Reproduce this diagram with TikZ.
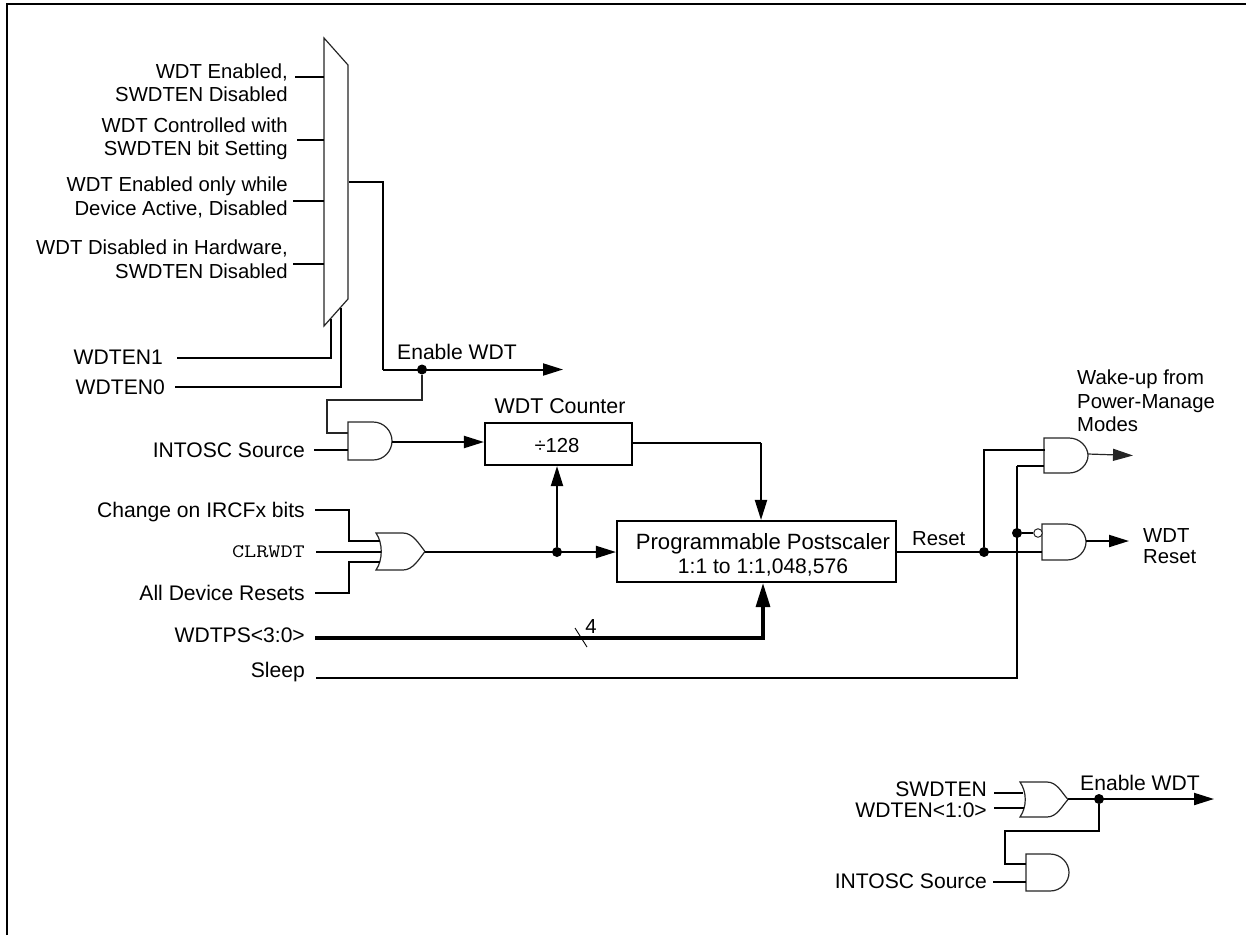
\documentclass[tikz,border=0pt]{standalone}
\usepackage{fontspec}
\usepackage{graphicx}
\setmainfont{Liberation Sans}
\usetikzlibrary{arrows.meta}
\tikzset{
  x=1pt,y=-1pt,
  frameline/.style={line width=2.4pt,black},
  wire/.style={line width=2pt,black,line cap=butt,line join=miter},
  thinwire/.style={line width=1.2pt,black!85},
  bus/.style={line width=3.2pt,black},
  arrowwire/.style={wire,-{Triangle[length=20pt,width=12pt]}},
  thinarrow/.style={thinwire,-{Triangle[length=20pt,width=12pt]}},
  busarrow/.style={bus,-{Triangle[length=24pt,width=14pt]}},
  gate/.style={line width=1.2pt,black!85,fill=white},
  blockbox/.style={draw,line width=2.1pt,fill=white,inner sep=0pt},
  lbl/.style={inner sep=0pt,font=\fontsize{20.3}{24}\selectfont},
  big/.style={font=\fontsize{21.1}{24}\selectfont},
  rlbl/.style={lbl,anchor=base east},
  llbl/.style={lbl,anchor=base west},
  clbl/.style={lbl,anchor=base},
  junction/.style={circle,fill=black,inner sep=0pt,minimum size=10pt},
}
% AND gate: left x, right x, top y, bottom y
\newcommand{\andgate}[4]{%
  \draw[gate] (#1,#3) -- ({#2-19},#3)
    .. controls ({#2-8},#3) and (#2,{#3+9}) .. (#2,{(#3+#4)/2})
    .. controls (#2,{#4-9}) and ({#2-8},#4) .. ({#2-19},#4)
    -- (#1,#4) -- cycle;}
% OR gate: back x, tip x, top y, bottom y
\newcommand{\orgate}[4]{%
  \draw[gate] (#1,#3) -- ({#1+27},#3)
    .. controls ({#1+37},#3) and ({#2-6},{#3+11}) .. (#2,{(#3+#4)/2})
    .. controls ({#2-6},{#4-11}) and ({#1+37},#4) .. ({#1+27},#4)
    -- (#1,#4)
    .. controls ({#1+7},{#4-10}) and ({#1+7},{#3+10}) .. (#1,#3) -- cycle;}
\begin{document}
\begin{tikzpicture}
\useasboundingbox (0,0) rectangle (1246,935);
% outer frame: left and top sides only are in the picture
\draw[frameline] (6.7,935) -- (6.7,4) -- (1246,4);

% ---- multiplexer
\draw[gate] (324,38) -- (348,65) -- (348,299) -- (324,326) -- cycle;
\coordinate (m1) at (324,77); \coordinate (m2) at (324,140);
\coordinate (m3) at (324,201); \coordinate (m4) at (324,264);
\coordinate (s1) at (331,319); \coordinate (s0) at (341,308);
\coordinate (mo) at (349,182);

\node[rlbl] (t1a) at (288,78) {WDT Enabled,};
\node[rlbl] (t1b) at (288,101) {SWDTEN Disabled};
\node[rlbl] (t2a) at (288,132) {WDT Controlled with};
\node[rlbl] (t2b) at (288,155.5) {SWDTEN bit Setting};
\node[rlbl] (t3a) at (288,191) {WDT Enabled only while};
\node[rlbl] (t3b) at (288,215) {Device Active, Disabled};
\node[rlbl] (t4a) at (288,254) {WDT Disabled in Hardware,};
\node[rlbl] (t4b) at (288,278) {SWDTEN Disabled};
\coordinate (i1) at (295,77); \coordinate (i2) at (297,140);
\coordinate (i3) at (293,201); \coordinate (i4) at (293,264);
\draw[wire] (i1) -- (m1);
\draw[wire] (i2) -- (m2);
\draw[wire] (i3) -- (m3);
\draw[wire] (i4) -- (m4);

\node[rlbl,big] (wd1) at (163,364) {WDTEN1};
\node[rlbl,big] (wd0) at (165,394) {WDTEN0};
\coordinate (wd1o) at (177,358); \coordinate (wd0o) at (175,387);
\draw[wire] (wd1o) -- (s1 |- wd1o) -- (s1);
\draw[wire] (wd0o) -- (s0 |- wd0o) -- (s0);

% ---- Enable WDT (upper)
\coordinate (en) at (563,369.5);
\coordinate (ecorner) at (383,369.5);
\draw[wire] (mo) -- (ecorner |- mo) -- (ecorner);
\draw[arrowwire] (ecorner) -- (en);
\node[llbl,big] (entxt) at (397,359) {Enable WDT};
\node[junction] (j1) at (422,369.5) {};

% ---- INTOSC AND
\andgate{348}{392}{422}{460}
\coordinate (a1i1) at (348,433); \coordinate (a1i2) at (348,450);
\coordinate (a1o) at (392,442);
\node[rlbl,big] (intosc) at (305,457) {INTOSC Source};
\coordinate (intoscO) at (314,450);
\draw[wire] (intoscO) -- (a1i2);
\draw[thinwire,line width=1.5pt] (j1) |- (327,400) -- (327,433) -- (a1i1);

% ---- WDT counter
\node[blockbox,minimum width=147pt,minimum height=42pt] (cnt) at (558.5,444) {};
\node[clbl] (cnttxt) at (557,452) {÷128};
\node[clbl,font=\fontsize{21.4}{24}\selectfont] (cntlbl) at (560,413) {WDT Counter};
\draw[arrowwire] (a1o) -- (cnt.west |- a1o);

% ---- Postscaler
\node[blockbox,minimum width=279pt,minimum height=61pt] (ps) at (756.5,551.5) {};
\node[clbl,font=\fontsize{22.1}{24}\selectfont] (pstxt1) at (763,549) {Programmable Postscaler};
\node[clbl,font=\fontsize{21.1}{24}\selectfont] (pstxt2) at (763,573) {1:1 to 1:1,048,576};
\coordinate (psin) at (761,443);
\draw[wire] (cnt.east |- psin) -- (psin);
\draw[arrowwire] (psin) -- (psin |- ps.north);

% ---- OR gate
\orgate{376}{425}{533}{570}
\coordinate (ori1) at (380,541); \coordinate (ori2) at (381,552);
\coordinate (ori3) at (380,562); \coordinate (oro) at (425,552);
\node[rlbl,big] (chg) at (305,517) {Change on IRCFx bits};
\node[rlbl] (clr) at (305,557) {\scalebox{1.24}[1]{\fontsize{19}{20}\selectfont\ttfamily CLRWDT}};
\node[rlbl,big] (all) at (305,600) {All Device Resets};
\coordinate (chgO) at (315,510); \coordinate (clrO) at (316,552); \coordinate (allO) at (315,593);
\draw[wire] (chgO) -- (349,510) -- (349,541) -- (ori1);
\draw[wire] (clrO) -- (ori2);
\draw[wire] (allO) -- (349,593) -- (349,562) -- (ori3);
\node[junction] (j2) at (557,552) {};
\draw[arrowwire] (oro) -- (ps.west |- oro);
\draw[arrowwire] (j2) -- (j2 |- cnt.south);

% ---- WDTPS bus
\node[rlbl,big] (wdtps) at (305,642) {WDTPS<3:0>};
\coordinate (wdtpsO) at (315,638);
\coordinate (buscorner) at (763,638);
\draw[bus] (wdtpsO) -- ([xshift=1.6pt]buscorner);
\draw[busarrow] (buscorner) -- (buscorner |- ps.south);
\coordinate (sl1) at (575,628); \coordinate (sl2) at (587,647);
\draw[line width=.9pt] (sl1) -- (sl2);
\node[clbl] (four) at (591,633) {4};

% ---- Sleep
\node[rlbl,big] (sleep) at (305,677) {Sleep};
\coordinate (sleepO) at (316,678);
\coordinate (sleepC) at (1017,678);
\draw[wire] (sleepO) -- (sleepC) -- (1017,466);

% ---- output gates
\andgate{1044}{1088}{438}{473}
\andgate{1042}{1086}{524}{560}
\coordinate (g1i1) at (1045,450); \coordinate (g1i2) at (1044,466);
\coordinate (g2i2) at (1042,552);
\draw[wire] (1017,466) -- (g1i2);
\node[llbl] (rst) at (912,545) {Reset};
\node[junction] (j3) at (984,552) {};
\draw[wire] (ps.east |- g2i2) -- (g2i2);
\draw[wire] (j3) -- (984,450) -- (g1i1);
\node[junction] (j4) at (1017,533) {};
\node[draw,circle,line width=1pt,black!85,fill=white,inner sep=0pt,minimum size=8.5pt] (bub) at (1038,533) {};
\draw[wire] (j4) -- (bub);
\coordinate (g1o) at (1088,454); \coordinate (g1t) at (1133,455.5);
\coordinate (g2o) at (1086,541); \coordinate (g2t) at (1129,541);
\draw[thinarrow] (g1o) -- (g1t);
\draw[arrowwire] (g2o) -- (g2t);
\node[llbl] (wk1) at (1077,384) {Wake-up from};
\node[llbl] (wk2) at (1077,408) {Power-Manage};
\node[llbl] (wk3) at (1077,431) {Modes};
\node[llbl] (wr1) at (1143,542) {WDT};
\node[llbl] (wr2) at (1143,563) {Reset};

% ---- lower detail
\orgate{1020}{1068}{782}{817}
\andgate{1026}{1069}{854}{891}
\node[rlbl,big] (sw) at (987,796) {SWDTEN};
\node[rlbl,big] (wdn) at (987,817) {WDTEN<1:0>};
\node[rlbl,big] (int2) at (987,888) {INTOSC Source};
\node[llbl,big] (en2txt) at (1080,790) {Enable WDT};
\coordinate (swO) at (994,793); \coordinate (wdnO) at (994,808); \coordinate (int2O) at (993,882);
\coordinate (or2i1) at (1023,793); \coordinate (or2i2) at (1024,808);
\coordinate (or2o) at (1068,799); \coordinate (en2) at (1214,799);
\coordinate (a2i1) at (1026,864); \coordinate (a2i2) at (1026,882);
\draw[wire] (swO) -- (or2i1);
\draw[wire] (wdnO) -- (or2i2);
\draw[wire] (int2O) -- (a2i2);
\draw[arrowwire] (or2o) -- (en2);
\node[junction] (j5) at (1099,799) {};
\draw[wire] (j5) |- (1005,831) -- (1005,864) -- (a2i1);
\end{tikzpicture}
\end{document}
